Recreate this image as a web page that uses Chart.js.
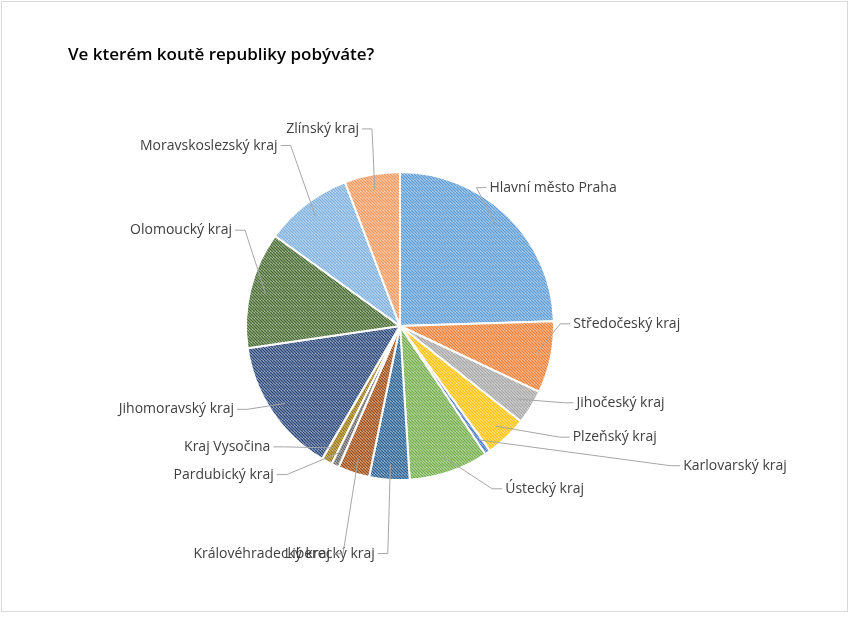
<!DOCTYPE html>
<html><head><meta charset="utf-8">
<script src="https://cdn.jsdelivr.net/npm/chart.js@4/dist/chart.umd.min.js"></script>
<style>body{margin:0;background:#fff}#wrap{width:850px;height:617px;position:relative}</style>
</head><body><div id="wrap"><canvas id="c" width="850" height="617"></canvas></div>
<script>
const categories=["Hlavní město Praha","Středočeský kraj","Jihočeský kraj","Plzeňský kraj","Karlovarský kraj","Ústecký kraj","Liberecký kraj","Královéhradecký kraj","Pardubický kraj","Kraj Vysočina","Jihomoravský kraj","Olomoucký kraj","Moravskoslezský kraj","Zlínský kraj"];
const values=[24.4,7.5,3.6,4.4,0.6,8.3,4.2,3.3,0.8,1.1,14.2,12.2,9.2,5.8];
const colors=["#5B9BD5","#ED7D31","#A5A5A5","#FFC000","#4472C4","#70AD47","#255E91","#9E480E","#636363","#997300","#264478","#43682B","#7CAFDD","#F1975A"];
const title="Ve kterém koutě republiky pobýváte?";
const labelShift=[[-46,-12],[-12,-38],[14,-16],[38,-16],[170,-5],[36,-4],[0,52],[-4,60],[-39,-11],[-33,-34],[-7,-15],[16,-54],[-2,-41],[4,-24]];
function pat(col){const c=document.createElement('canvas');c.width=c.height=6;const x=c.getContext('2d');x.fillStyle='#fff';x.fillRect(0,0,6,6);x.fillStyle=col;x.globalAlpha=0.3;x.fillRect(0,0,6,6);x.globalAlpha=1;x.strokeStyle=col;x.lineWidth=1.5;x.beginPath();for(let k=-6;k<=12;k+=3){x.moveTo(k,0);x.lineTo(k+6,6);}x.stroke();return x.createPattern(c,'repeat');}
const deco={id:'deco',afterDraw(ch){const g=ch.ctx;g.save();g.strokeStyle='#d9d9d9';g.lineWidth=1;g.strokeRect(1.5,1.5,846,610);
g.fillStyle='#000';g.font='600 17px "Open Sans"';g.textBaseline='middle';g.fillText(title,68,55);
const arcs=ch.getDatasetMeta(0).data;
g.font='14px "Open Sans"';g.fillStyle='#404040';g.strokeStyle='#a6a6a6';
arcs.forEach((a,i)=>{const m=(a.startAngle+a.endAngle)/2;const r=a.outerRadius;const c=Math.cos(m),s=Math.sin(m);
const p1=[a.x+c*r*0.9,a.y+s*r*0.9];const x=a.x+c*(r+22)+labelShift[i][0],y=a.y+s*(r+22)+labelShift[i][1];
const right=c>=0;const dx=right?10:-10;
g.beginPath();g.moveTo(p1[0],p1[1]);g.lineTo(x,y);g.lineTo(x+dx,y);g.stroke();
g.textAlign=right?'left':'right';g.fillText(categories[i],x+dx+(right?3:-3),y);});
g.restore();}};
new Chart(document.getElementById('c'),{type:'pie',data:{labels:categories,datasets:[{data:values,backgroundColor:colors.map(pat),borderColor:'#fff',borderWidth:2}]},
options:{responsive:false,animation:false,layout:{padding:{top:171,bottom:136,left:0,right:50}},plugins:{legend:{display:false},tooltip:{enabled:false}}},plugins:[deco]});
</script></body></html>
